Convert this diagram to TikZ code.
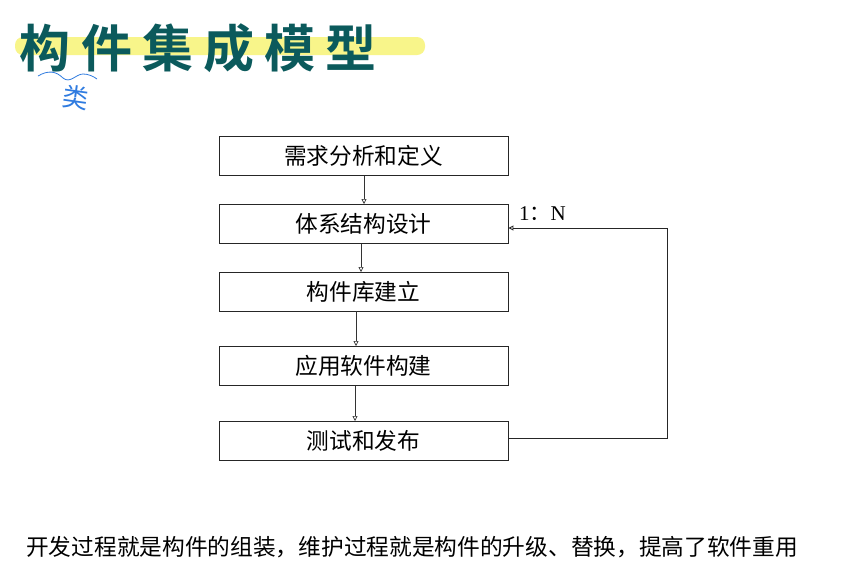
\documentclass[tikz,border=0pt]{standalone}
\usepackage{fontspec}
\setmainfont{Liberation Serif}
\newfontfamily\cjk{Noto Sans CJK SC}
\newfontfamily\cjkb{Noto Sans CJK SC Bold}
\usetikzlibrary{arrows.meta}
\definecolor{titlecol}{HTML}{0B5A5C}
\definecolor{hilite}{HTML}{F8F58A}
\definecolor{penblue}{HTML}{2F7BE0}
\begin{document}
\begin{tikzpicture}[x=1pt,y=-1pt,
  flowbox/.style={draw=black!85,line width=0.9pt,minimum width=289pt,minimum height=39pt,inner sep=0pt,font=\cjk\fontsize{22.7}{22.7}\selectfont},
  tchar/.style={font=\cjkb\fontsize{51}{51}\selectfont,text=titlecol,inner sep=0pt},
  flow/.style={draw=black!80,line width=0.7pt,-{Triangle[open,length=5pt,width=5pt]}},
  back/.style={draw=black!85,line width=0.9pt}]
\useasboundingbox (0,0) rectangle (842,566);
\fill[white] (0,0) rectangle (842,566);
% title highlight
\fill[hilite,rounded corners=8pt] (15,37) rectangle (425,55);
\node[tchar] (t1) at (45,48) {构};
\node[tchar] (t2) at (107,48) {件};
\node[tchar] (t3) at (168,48) {集};
\node[tchar] (t4) at (229,48) {成};
\node[tchar] (t5) at (290,48) {模};
\node[tchar] (t6) at (351,48) {型};
% handwriting
\draw[penblue,line width=0.8pt] (38,76) .. controls (48,70) and (56,71) .. (63,78) .. controls (70,84) and (76,74) .. (83,74) .. controls (88,74) and (93,76) .. (97,79);
\node[text=penblue,font=\cjk\fontsize{26}{26}\selectfont,rotate=-8,inner sep=0pt] (hw) at (76,98) {类};
% boxes
\node[flowbox] (b1) at (363.5,156) {需求分析和定义};
\node[flowbox] (b2) at (363.5,224) {体系结构设计};
\node[flowbox] (b3) at (363.5,291.5) {构件库建立};
\node[flowbox] (b4) at (363.5,366) {应用软件构建};
\node[flowbox] (b5) at (363.5,440.5) {测试和发布};
\draw[flow] (364,176) -- (364,204);
\draw[flow] (361,244) -- (361,272);
\draw[flow] (356,311) -- (356,346);
\draw[flow] (355,386) -- (355,421);
% feedback
\coordinate (fb1) at (667,438);
\coordinate (fb2) at (667,228);
\draw[back,-{Triangle[open,length=5pt,width=5pt]}] (b5.east |- 0,438) -- (fb1) -- (fb2) -- (b2.east |- 0,228);
\node[anchor=west,font=\fontsize{21}{21}\selectfont,inner sep=0pt] (lbl) at (519,214) {1{\cjk\fontsize{21}{21}\selectfont ：}N};
% bottom text
\node[anchor=west,font=\cjk\fontsize{22.7}{22.7}\selectfont,inner sep=0pt] (bt) at (26,547) {开发过程就是构件的组装，维护过程就是构件的升级、替换，提高了软件重用};
\end{tikzpicture}
\end{document}
